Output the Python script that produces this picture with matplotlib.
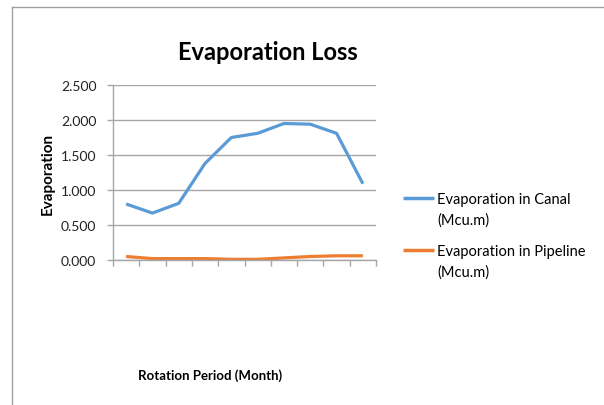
import matplotlib
matplotlib.use("Agg")
import matplotlib.pyplot as plt
from matplotlib.lines import Line2D
from matplotlib.ticker import FixedLocator, FuncFormatter

months = list(range(1, 11))
canal = [0.80, 0.67, 0.81, 1.38, 1.75, 1.81, 1.95, 1.94, 1.81, 1.09]
pipeline = [0.05, 0.02, 0.02, 0.02, 0.01, 0.01, 0.03, 0.05, 0.06, 0.06]
yticks = [0.0, 0.5, 1.0, 1.5, 2.0, 2.5]
series_names = ["Evaporation in Canal\n(Mcu.m)", "Evaporation in Pipeline\n(Mcu.m)"]
colors = ["#5B9BD5", "#ED7D31"]

FONT = ["Lato", "DejaVu Sans"]
plt.rcParams["font.family"] = FONT

fig = plt.figure(figsize=(6.04, 4.06), dpi=100)
W, H = 604, 406

def fx(px):
    return px / W

def fy(py):
    return 1 - py / H

# outer chart frame (left and top edges visible)
fig.add_artist(Line2D([fx(12), fx(12)], [0, fy(8)], transform=fig.transFigure, color="#a0a0a0", lw=1))
fig.add_artist(Line2D([fx(12), 1], [fy(8), fy(8)], transform=fig.transFigure, color="#a0a0a0", lw=1))

ax = fig.add_axes([fx(113), fy(261), (376 - 113) / W, (261 - 86) / H])
x = list(range(len(months)))
for vals, c, name in zip([canal, pipeline], colors, series_names):
    ax.plot(x, vals, color=c, lw=2.3, solid_capstyle="butt", label=name)

ax.set_xlim(-0.5, len(months) - 0.5)
ax.set_ylim(0, 2.5)
ax.yaxis.set_major_locator(FixedLocator(yticks))
ax.yaxis.set_major_formatter(FuncFormatter(lambda v, p: f"{v:.3f}"))
ax.xaxis.set_major_locator(FixedLocator([i - 0.5 for i in range(len(months) + 1)]))
ax.set_xticklabels([])
ax.grid(axis="y", color="#a6a6a6", lw=1)
ax.set_axisbelow(True)
for s in ["top", "right"]:
    ax.spines[s].set_visible(False)
for s in ["left", "bottom"]:
    ax.spines[s].set_color("#a6a6a6")
    ax.spines[s].set_linewidth(1)
ax.tick_params(axis="both", color="#a6a6a6", length=4, width=1, direction="out")
ax.tick_params(axis="y", labelsize=10, pad=8, labelcolor="#222222")

ax.set_ylabel("Evaporation", fontsize=11, fontweight="bold")
ax.yaxis.set_label_coords((55 - 113) / (376 - 113), 0.5)

fig.text(fx(268), fy(53), "Evaporation Loss", ha="center", va="center",
         fontsize=17, fontweight="bold")
fig.text(fx(210), fy(376), "Rotation Period (Month)", ha="center", va="center",
         fontsize=9.5, fontweight="bold")

# legend drawn manually to match layout
rows_y = [199, 251]
for ry, c, name in zip(rows_y, colors, series_names):
    fig.add_artist(Line2D([fx(403), fx(434)], [fy(ry), fy(ry)], transform=fig.transFigure,
                          color=c, lw=2.5, solid_capstyle="butt"))
    l1, l2 = name.split("\n")
    fig.text(fx(437), fy(ry + 1), l1, ha="left", va="center", fontsize=10.5)
    fig.text(fx(437), fy(ry + 22), l2, ha="left", va="center", fontsize=10.5)

fig.savefig("out.png", dpi=100)
